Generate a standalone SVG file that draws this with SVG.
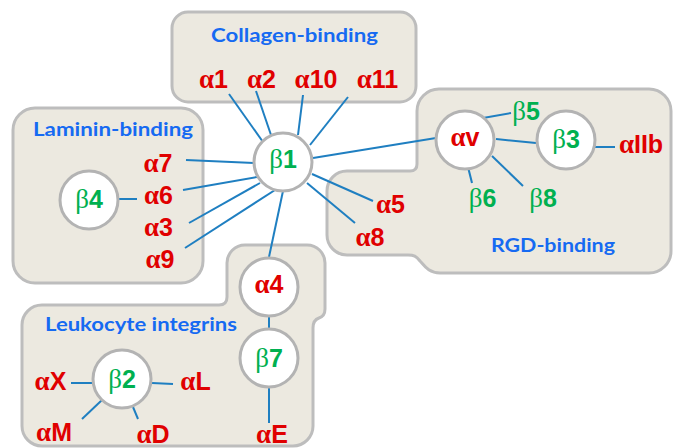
<svg xmlns="http://www.w3.org/2000/svg" width="673" height="448" viewBox="0 0 673 448">
<style>
.box{fill:#ece9e0;stroke:#bdbdbd;stroke-width:3}
.c{fill:#ffffff;stroke:#b3b3b3;stroke-width:3}
.ln{stroke:#1f7fc1;stroke-width:2;fill:none}
.t{font-family:Lato,"Open Sans","Liberation Sans",sans-serif;font-weight:bold;font-size:19px;fill:#166af2}
.a{font-family:"Liberation Sans",Arial,sans-serif;font-weight:bold;font-size:25px;fill:#e00000;text-anchor:middle}
.b{font-family:"Liberation Sans",Arial,sans-serif;font-weight:bold;font-size:25px;fill:#00b050;text-anchor:middle}
.g{font-family:"Liberation Serif","Times New Roman",serif;font-weight:bold;font-size:27px}
.h{font-family:"Liberation Serif","Times New Roman",serif;font-weight:normal;font-size:27px}
</style>
<g id="groups">
<g id="collagen-box"><rect class="box" x="172" y="12" width="244" height="90" rx="16"/><text class="t" x="211" y="42" textLength="167" lengthAdjust="spacingAndGlyphs">Collagen-binding</text></g>
<g id="laminin-box"><rect class="box" x="13" y="108" width="190" height="175" rx="22"/><text class="t" x="33" y="136" textLength="160" lengthAdjust="spacingAndGlyphs">Laminin-binding</text></g>
<g id="rgd-box"><path class="box" d="M439,89 H649 A22,22 0 0 1 671,111 V251 A22,22 0 0 1 649,273 H440 C428,273 424,265 420,261 C416,256 414,255 408,255 H347 A20,20 0 0 1 327,235 V191 A20,20 0 0 1 347,171 H410 Q417,171 417,164 V111 A22,22 0 0 1 439,89 Z"/><text class="t" x="491" y="252" textLength="124" lengthAdjust="spacingAndGlyphs">RGD-binding</text></g>
<g id="leukocyte-box"><path class="box" d="M42,305 H219 Q227,305 227,297 V263 A18,18 0 0 1 245,245 H307 A18,18 0 0 1 325,263 V309 Q325,316 319,318 Q313,320 313,328 V426 A20,20 0 0 1 293,446 H42 A20,20 0 0 1 22,426 V325 A20,20 0 0 1 42,305 Z"/><text class="t" x="45" y="331" textLength="192" lengthAdjust="spacingAndGlyphs">Leukocyte integrins</text></g>
</g>
<g id="connectors">
<line class="ln" x1="229" y1="94" x2="263" y2="142"/>
<line class="ln" x1="256" y1="91" x2="271" y2="135"/>
<line class="ln" x1="303" y1="95" x2="298" y2="135"/>
<line class="ln" x1="348" y1="97" x2="310" y2="145"/>
<line class="ln" x1="313" y1="158" x2="436" y2="138"/>
<line class="ln" x1="312" y1="174" x2="373" y2="201"/>
<line class="ln" x1="307" y1="183" x2="355" y2="223"/>
<line class="ln" x1="283" y1="191" x2="269" y2="257"/>
<line class="ln" x1="186" y1="160" x2="254" y2="163"/>
<line class="ln" x1="183" y1="190" x2="257" y2="177"/>
<line class="ln" x1="189" y1="223" x2="260" y2="183"/>
<line class="ln" x1="185" y1="248" x2="275" y2="190"/>
<line class="ln" x1="119" y1="199" x2="137" y2="199"/>
<line class="ln" x1="483" y1="118" x2="511" y2="113"/>
<line class="ln" x1="496" y1="139" x2="536" y2="143"/>
<line class="ln" x1="468" y1="167" x2="472" y2="183"/>
<line class="ln" x1="492" y1="156" x2="523" y2="186"/>
<line class="ln" x1="595" y1="147" x2="615" y2="147"/>
<line class="ln" x1="269" y1="315" x2="269" y2="330"/>
<line class="ln" x1="269" y1="388" x2="269" y2="423"/>
<line class="ln" x1="71" y1="383" x2="92" y2="383"/>
<line class="ln" x1="152" y1="383" x2="173" y2="384"/>
<line class="ln" x1="82" y1="419" x2="102" y2="400"/>
<line class="ln" x1="133" y1="407" x2="138" y2="419"/>
</g>
<g id="b1"><circle class="c" cx="283" cy="162" r="29"/><text class="b" x="283" y="168"><tspan class="h">β</tspan>1</text></g>
<g id="b4"><circle class="c" cx="89" cy="200" r="29"/><text class="b" x="89" y="208"><tspan class="h">β</tspan>4</text></g>
<g id="av"><circle class="c" cx="465" cy="140" r="29"/><text class="a" x="465" y="146"><tspan class="g">α</tspan>v</text></g>
<g id="b3"><circle class="c" cx="566" cy="140" r="29"/><text class="b" x="566" y="148"><tspan class="h">β</tspan>3</text></g>
<g id="a4"><circle class="c" cx="269" cy="287" r="29"/><text class="a" x="269" y="293"><tspan class="g">α</tspan>4</text></g>
<g id="b7"><circle class="c" cx="269" cy="358" r="29"/><text class="b" x="269" y="367"><tspan class="h">β</tspan>7</text></g>
<g id="b2"><circle class="c" cx="122" cy="379" r="29"/><text class="b" x="122" y="388"><tspan class="h">β</tspan>2</text></g>
<g id="a1"><text class="a" x="213.5" y="88"><tspan class="g">α</tspan>1</text></g>
<g id="a2"><text class="a" x="261.5" y="88"><tspan class="g">α</tspan>2</text></g>
<g id="a10"><text class="a" x="316" y="88"><tspan class="g">α</tspan>10</text></g>
<g id="a11"><text class="a" x="377.5" y="88"><tspan class="g">α</tspan>11</text></g>
<g id="a7"><text class="a" x="158" y="172"><tspan class="g">α</tspan>7</text></g>
<g id="a6"><text class="a" x="158.5" y="204"><tspan class="g">α</tspan>6</text></g>
<g id="a3"><text class="a" x="158.5" y="236"><tspan class="g">α</tspan>3</text></g>
<g id="a9"><text class="a" x="160" y="268"><tspan class="g">α</tspan>9</text></g>
<g id="a5"><text class="a" x="390.5" y="213"><tspan class="g">α</tspan>5</text></g>
<g id="a8"><text class="a" x="370" y="246"><tspan class="g">α</tspan>8</text></g>
<g id="b5"><text class="b" x="526" y="120"><tspan class="h">β</tspan>5</text></g>
<g id="b6"><text class="b" x="482.5" y="207"><tspan class="h">β</tspan>6</text></g>
<g id="b8"><text class="b" x="543" y="207"><tspan class="h">β</tspan>8</text></g>
<g id="aIIb"><text class="a" x="641" y="153"><tspan class="g">α</tspan>IIb</text></g>
<g id="aX"><text class="a" x="50.5" y="390"><tspan class="g">α</tspan>X</text></g>
<g id="aL"><text class="a" x="195.5" y="390"><tspan class="g">α</tspan>L</text></g>
<g id="aM"><text class="a" x="54" y="441"><tspan class="g">α</tspan>M</text></g>
<g id="aD"><text class="a" x="153" y="443"><tspan class="g">α</tspan>D</text></g>
<g id="aE"><text class="a" x="272" y="443"><tspan class="g">α</tspan>E</text></g>
</svg>
